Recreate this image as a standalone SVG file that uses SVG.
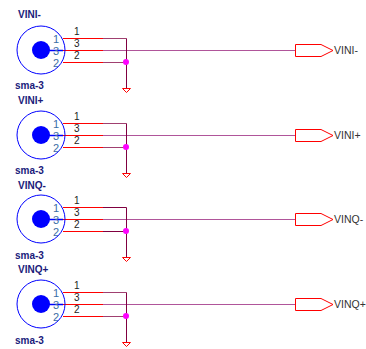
<svg xmlns="http://www.w3.org/2000/svg" width="366" height="349" viewBox="0 0 366 349">
<style>
.bg{fill:#fff}
.ring{fill:none;stroke:#0000ff;stroke-width:1}
.core{fill:#0000ff}
.pin{fill:none;stroke:#0000ff;stroke-width:1.5}
.red{fill:none;stroke:#ff0000;stroke-width:1.2}
.pur{fill:none;stroke:#800040;stroke-width:1}
.mix{fill:none;stroke:#a04070;stroke-width:1.2}
.sig{fill:none;stroke:#b0559a;stroke-width:1}
.dot{fill:#ff00ff}
.gnd{fill:none;stroke:#ff0000;stroke-width:1}
.port{fill:#fff;stroke:#ff0000;stroke-width:1}
text{font-family:"Liberation Sans",Arial,sans-serif;font-size:10px}
.ref{fill:#1a1a7a;font-weight:bold}
.num{fill:#222}
.pn{fill:#3a6ea5;font-size:11px}
.lab{fill:#333;font-size:10.5px}
</style>
<rect class="bg" width="366" height="349"/>
<g id="connectors">
<path class="red" d="M63 38.500H103M63 50.500H103M63 62.500H103"/><path class="mix" d="M103 38.500H126.500M103 62.500H126.500"/><path class="sig" d="M103 50.500H295"/><path class="pur" d="M126.500 38.500V88"/>
<path class="red" d="M63 123.500H103M63 135.500H103M63 147.500H103"/><path class="mix" d="M103 123.500H126.500M103 147.500H126.500"/><path class="sig" d="M103 135.500H295"/><path class="pur" d="M126.500 123.500V173"/>
<path class="red" d="M63 207.500H103M63 219.500H103M63 231.500H103"/><path class="pur" d="M103 207.500H126.500M103 231.500H126.500"/><path class="sig" d="M103 219.500H295"/><path class="pur" d="M126.500 207.500V257"/>
<path class="red" d="M63 292.500H103M63 304.500H103M63 316.500H103"/><path class="mix" d="M103 292.500H126.500M103 316.500H126.500"/><path class="sig" d="M103 304.500H295"/><path class="pur" d="M126.500 292.500V342"/>
</g>
<g id="J1"><circle class="ring" cx="41" cy="50" r="24"/><circle class="core" cx="41" cy="50" r="9"/><path class="pin" d="M41 50.500H63"/><text class="ref" x="18" y="18">VINI-</text><text class="ref" x="15" y="89">sma-3</text><text class="pn" x="53" y="43">1</text><text class="pn" x="53" y="55">3</text><text class="pn" x="53" y="67">2</text><text class="num" x="74" y="35">1</text><text class="num" x="74" y="47">3</text><text class="num" x="74" y="59">2</text></g>
<g id="J2"><circle class="ring" cx="41" cy="135" r="24"/><circle class="core" cx="41" cy="135" r="9"/><path class="pin" d="M41 135.500H63"/><text class="ref" x="18" y="104">VINI+</text><text class="ref" x="15" y="174">sma-3</text><text class="pn" x="53" y="128">1</text><text class="pn" x="53" y="140">3</text><text class="pn" x="53" y="152">2</text><text class="num" x="74" y="120">1</text><text class="num" x="74" y="132">3</text><text class="num" x="74" y="144">2</text></g>
<g id="J3"><circle class="ring" cx="41" cy="219" r="24"/><circle class="core" cx="41" cy="219" r="9"/><path class="pin" d="M41 219.500H63"/><text class="ref" x="18" y="189">VINQ-</text><text class="ref" x="15" y="259">sma-3</text><text class="pn" x="53" y="212">1</text><text class="pn" x="53" y="224">3</text><text class="pn" x="53" y="236">2</text><text class="num" x="74" y="204">1</text><text class="num" x="74" y="216">3</text><text class="num" x="74" y="228">2</text></g>
<g id="J4"><circle class="ring" cx="41" cy="304" r="24"/><circle class="core" cx="41" cy="304" r="9"/><path class="pin" d="M41 304.500H63"/><text class="ref" x="18" y="273">VINQ+</text><text class="ref" x="15" y="344">sma-3</text><text class="pn" x="53" y="297">1</text><text class="pn" x="53" y="309">3</text><text class="pn" x="53" y="321">2</text><text class="num" x="74" y="289">1</text><text class="num" x="74" y="301">3</text><text class="num" x="74" y="313">2</text></g>
<g id="G1"><circle class="dot" cx="126" cy="62" r="3"/><path class="gnd" d="M122.500 88.500H130.500L126.500 92.500Z"/></g>
<g id="G2"><circle class="dot" cx="126" cy="147" r="3"/><path class="gnd" d="M122.500 173.500H130.500L126.500 177.500Z"/></g>
<g id="G3"><circle class="dot" cx="126" cy="231" r="3"/><path class="gnd" d="M122.500 257.500H130.500L126.500 261.500Z"/></g>
<g id="G4"><circle class="dot" cx="126" cy="316" r="3"/><path class="gnd" d="M122.500 342.500H130.500L126.500 346.500Z"/></g>
<g id="P1"><path class="port" d="M295.500 44.500H321L333 50.500L321 56.500H295.500Z"/><text class="lab" x="334" y="54">VINI-</text></g>
<g id="P2"><path class="port" d="M295.500 129.500H321L333 135.500L321 141.500H295.500Z"/><text class="lab" x="334" y="139">VINI+</text></g>
<g id="P3"><path class="port" d="M295.500 213.500H321L333 219.500L321 225.500H295.500Z"/><text class="lab" x="334" y="223">VINQ-</text></g>
<g id="P4"><path class="port" d="M295.500 298.500H321L333 304.500L321 310.500H295.500Z"/><text class="lab" x="334" y="308">VINQ+</text></g>
</svg>
